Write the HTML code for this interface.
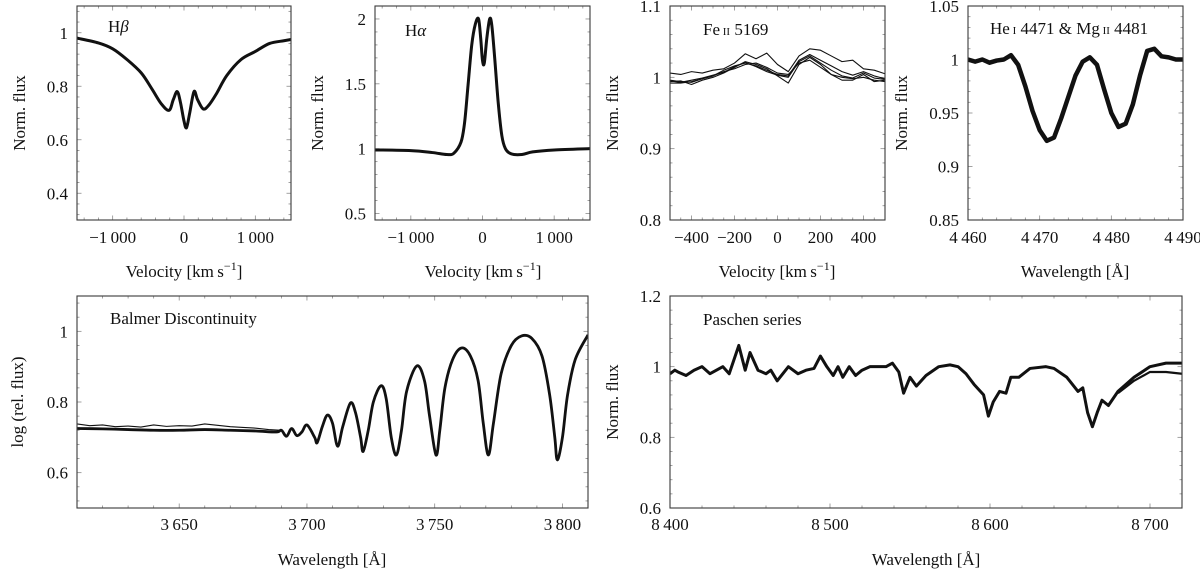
<!DOCTYPE html>
<html><head><meta charset="utf-8"><style>
html,body{margin:0;padding:0;background:#fff;}
svg{display:block;}
svg text{font-family:"Liberation Serif","DejaVu Serif",serif;}
</style></head><body>
<svg id="fig" width="1200" height="573" viewBox="0 0 1200 573" xmlns="http://www.w3.org/2000/svg" font-family="Liberation Serif, DejaVu Serif, serif"></svg>
<script>
// ---------- data ----------
const hbVel = [-1500,-1200,-1000,-800,-600,-450,-320,-210,-150,-95,-50,0,35,80,140,190,270,350,450,600,800,1000,1200,1400,1500];
const hbFlux = [0.98,0.962,0.94,0.90,0.85,0.79,0.735,0.71,0.75,0.78,0.74,0.67,0.645,0.70,0.78,0.75,0.715,0.73,0.77,0.84,0.90,0.93,0.96,0.97,0.975];

const haVel = [-1500,-1000,-700,-500,-400,-300,-250,-200,-150,-100,-55,-25,0,25,60,100,130,170,220,270,320,400,550,700,1000,1500];
const haFlux = [0.99,0.985,0.97,0.955,0.965,1.05,1.2,1.5,1.8,1.96,2.0,1.85,1.68,1.66,1.85,2.0,1.95,1.7,1.35,1.1,1.0,0.96,0.955,0.975,0.99,1.0];

const feVel = [-500,-450,-400,-350,-300,-250,-200,-150,-100,-50,0,50,100,150,200,250,300,350,400,450,500];
const feA = [1.006,1.004,1.008,1.006,1.010,1.012,1.020,1.033,1.026,1.034,1.018,1.008,1.030,1.040,1.038,1.030,1.022,1.024,1.012,1.010,1.005];
const feB = [0.996,0.994,0.993,0.998,1.002,1.010,1.016,1.020,1.016,1.010,1.004,1.002,1.024,1.032,1.024,1.016,1.008,1.003,1.008,1.002,0.998];
const feC = [0.994,0.995,0.990,0.996,1.000,1.006,1.014,1.022,1.018,1.012,1.002,0.992,1.018,1.028,1.018,1.004,0.996,0.996,1.004,0.994,0.996];
const feD = [0.992,0.992,0.994,0.998,1.002,1.008,1.012,1.018,1.020,1.014,1.006,1.004,1.020,1.024,1.014,1.004,1.000,0.998,1.000,0.996,0.994];
const feE = [0.995,0.993,0.996,0.999,1.003,1.007,1.015,1.021,1.015,1.008,1.003,1.000,1.022,1.030,1.020,1.010,1.002,0.999,1.006,0.999,0.997];

const heWave = [4460,4461,4462,4463,4464,4465,4466,4467,4468,4469,4470,4471,4472,4473,4474,4475,4476,4477,4478,4479,4480,4481,4482,4483,4484,4485,4486,4487,4488,4489,4490];
const heFlux = [1.0,0.998,1.0,0.997,0.999,1.0,1.004,0.995,0.975,0.952,0.934,0.924,0.927,0.945,0.965,0.985,0.998,1.002,0.995,0.972,0.950,0.937,0.940,0.958,0.985,1.008,1.01,1.003,1.002,1.0,1.0];

const bdWave = [3610,3620,3630,3640,3650,3660,3670,3680,3688,3690,3692,3694,3696,3698,3700,3703,3704,3706,3708,3710,3712,3714,3717,3719,3721,3722,3724,3726,3729,3731,3733,3735,3737,3739,3743,3746,3748,3750.5,3752,3754,3757,3760.5,3764,3767,3769,3771,3773,3776,3780,3784,3788,3792,3795,3797,3798,3800,3802,3805,3810];
const bdFlux = [0.725,0.724,0.722,0.72,0.72,0.722,0.72,0.718,0.715,0.72,0.703,0.725,0.705,0.715,0.735,0.70,0.685,0.73,0.763,0.74,0.675,0.73,0.797,0.77,0.70,0.66,0.72,0.80,0.846,0.81,0.70,0.65,0.72,0.83,0.902,0.86,0.76,0.65,0.72,0.84,0.92,0.953,0.93,0.86,0.74,0.65,0.74,0.88,0.96,0.987,0.98,0.93,0.82,0.70,0.636,0.70,0.82,0.92,0.99];
const bdUpperWave = [3610,3615,3620,3625,3630,3635,3640,3645,3650,3655,3660,3665,3670,3675,3680,3685,3690];
const bdUpperFlux = [0.738,0.733,0.735,0.73,0.732,0.729,0.735,0.731,0.733,0.732,0.738,0.734,0.73,0.728,0.726,0.722,0.72];

const paWave = [8400,8403,8405,8410,8415,8420,8425,8433,8437,8443,8447,8450,8455,8460,8463,8467,8474,8480,8485,8490,8494,8498,8502,8505,8508,8512,8516,8520,8525,8535,8539,8543,8546,8550,8554,8560,8568,8575,8580,8585,8590,8593,8596,8599,8602,8606,8610,8613,8618,8625,8635,8640,8648,8655,8658,8661,8664,8667,8670,8674,8680,8690,8700,8710,8720];
const paFlux = [0.98,0.99,0.985,0.975,0.99,1.0,0.98,1.0,0.98,1.06,0.99,1.04,0.99,0.98,0.99,0.96,1.0,0.98,0.99,0.995,1.03,1.0,0.975,1.0,0.97,1.0,0.975,0.99,1.0,1.0,1.01,0.985,0.925,0.97,0.945,0.975,1.0,1.005,1.0,0.98,0.95,0.935,0.92,0.86,0.9,0.93,0.925,0.97,0.97,0.995,1.0,0.995,0.97,0.93,0.94,0.87,0.83,0.87,0.905,0.89,0.93,0.97,1.0,1.01,1.01];
const paTailWave = [8680,8690,8700,8710,8720];
const paTailFlux = [0.925,0.96,0.985,0.985,0.98];

// tick arrays
const p1XTicks=[-1000,0,1000], p1XLabels=["\u22121\u2009000","0","1\u2009000"], p1YTicks=[0.4,0.6,0.8,1], p1YLabels=["0.4","0.6","0.8","1"];
const p2XTicks=[-1000,0,1000], p2XLabels=["\u22121\u2009000","0","1\u2009000"], p2YTicks=[0.5,1,1.5,2], p2YLabels=["0.5","1","1.5","2"];
const p3XTicks=[-400,-200,0,200,400], p3XLabels=["\u2212400","\u2212200","0","200","400"], p3YTicks=[0.8,0.9,1,1.1], p3YLabels=["0.8","0.9","1","1.1"];
const p4XTicks=[4460,4470,4480,4490], p4XLabels=["4\u2009460","4\u2009470","4\u2009480","4\u2009490"], p4YTicks=[0.85,0.9,0.95,1,1.05], p4YLabels=["0.85","0.9","0.95","1","1.05"];
const p5XTicks=[3650,3700,3750,3800], p5XLabels=["3\u2009650","3\u2009700","3\u2009750","3\u2009800"], p5YTicks=[0.6,0.8,1], p5YLabels=["0.6","0.8","1"];
const p6XTicks=[8400,8500,8600,8700], p6XLabels=["8\u2009400","8\u2009500","8\u2009600","8\u2009700"], p6YTicks=[0.6,0.8,1,1.2], p6YLabels=["0.6","0.8","1","1.2"];

// ---------- drawing ----------
const NS="http://www.w3.org/2000/svg";
const FONT="Liberation Serif, DejaVu Serif, serif";
const svg=document.getElementById('fig');
function mk(tag,attrs,parent){const e=document.createElementNS(NS,tag);for(const k in attrs)e.setAttribute(k,attrs[k]);(parent||svg).appendChild(e);return e;}

function pathD(xs,ys,sx,sy,smooth){
  const P=xs.map((x,i)=>[sx(x),sy(ys[i])]);
  let d="M"+P[0][0].toFixed(2)+","+P[0][1].toFixed(2);
  for(let i=1;i<P.length;i++){
    if(!smooth){d+="L"+P[i][0].toFixed(2)+","+P[i][1].toFixed(2);continue;}
    const p0=P[Math.max(0,i-2)],p1=P[i-1],p2=P[i],p3=P[Math.min(P.length-1,i+1)];
    const c1=[p1[0]+(p2[0]-p0[0])/6,p1[1]+(p2[1]-p0[1])/6];
    const c2=[p2[0]-(p3[0]-p1[0])/6,p2[1]-(p3[1]-p1[1])/6];
    d+="C"+c1[0].toFixed(2)+","+c1[1].toFixed(2)+" "+c2[0].toFixed(2)+","+c2[1].toFixed(2)+" "+p2[0].toFixed(2)+","+p2[1].toFixed(2);
  }
  return d;
}

function panel(cfg){
  const g=mk('g',{});
  
  
  const {L,R,T,B,x0,x1,y0,y1}=cfg;
  const sx=v=>L+(v-x0)/(x1-x0)*(R-L);
  const sy=v=>B-(v-y0)/(y1-y0)*(B-T);
  const tk=mk('g',{stroke:'#8a8a8a','stroke-width':0.8},g);
  
  
  for(let v=Math.ceil(x0/cfg.xm-1e-9)*cfg.xm; v<=x1+1e-9; v+=cfg.xm){
    const X=sx(v); const major=cfg.xt.some(t=>Math.abs(t-v)<cfg.xm/10); const len=major?4.5:2.5;
    mk('line',{x1:X,x2:X,y1:B,y2:B-len},tk); mk('line',{x1:X,x2:X,y1:T,y2:T+len},tk);
  }
  for(let v=Math.ceil(y0/cfg.ym-1e-9)*cfg.ym; v<=y1+1e-9; v+=cfg.ym){
    const Y=sy(v); const major=cfg.yt.some(t=>Math.abs(t-v)<cfg.ym/10); const len=major?4.5:2.5;
    mk('line',{x1:L,x2:L+len,y1:Y,y2:Y},tk); mk('line',{x1:R,x2:R-len,y1:Y,y2:Y},tk);
  }
  const clip='clip-'+cfg.name;
  const cp=mk('clipPath',{id:clip},g); mk('rect',{x:L,y:T,width:R-L,height:B-T},cp);
  const sg=mk('g',{'clip-path':'url(#'+clip+')',fill:'none',stroke:'#111','stroke-linejoin':'round'},g);
  cfg.series.forEach((s,i)=>{
    const p=mk('path',{d:pathD(s.x,s.y,sx,sy,s.smooth),'stroke-width':s.w},sg);
    
    
  });
  const fr=mk('rect',{x:L,y:T,width:R-L,height:B-T,fill:'none',stroke:'#3a3a3a','stroke-width':1.1},g);
  
  
  cfg.xt.forEach((v,i)=>{
    const t=mk('text',{x:sx(v),y:cfg.xly,'text-anchor':'middle','font-size':17,fill:'#111','font-family':FONT},g);
    t.textContent=cfg.xl[i];
    
    
  });
  cfg.yt.forEach((v,i)=>{
    const t=mk('text',{x:L-9,y:sy(v)+6,'text-anchor':'end','font-size':17,fill:'#111','font-family':FONT},g);
    t.textContent=cfg.yl[i];
    
    
  });
  return g;
}

const thin=1.1;
panel({name:'hbeta-panel',L:77,R:291,T:6,B:220,x0:-1500,x1:1500,y0:0.3,y1:1.1,xm:200,ym:0.04,xt:p1XTicks,xl:p1XLabels,yt:p1YTicks,yl:p1YLabels,xly:243,
  series:[{x:hbVel,y:hbFlux,w:3,smooth:true}]});
panel({name:'halpha-panel',L:375,R:590,T:6,B:220,x0:-1500,x1:1500,y0:0.45,y1:2.1,xm:200,ym:0.1,xt:p2XTicks,xl:p2XLabels,yt:p2YTicks,yl:p2YLabels,xly:243,
  series:[{x:haVel,y:haFlux,w:3,smooth:true}]});
panel({name:'feii-panel',L:670,R:885,T:6,B:220,x0:-500,x1:500,y0:0.8,y1:1.1,xm:50,ym:0.02,xt:p3XTicks,xl:p3XLabels,yt:p3YTicks,yl:p3YLabels,xly:243,
  series:[{x:feVel,y:feA,w:thin},{x:feVel,y:feB,w:thin},{x:feVel,y:feC,w:thin},{x:feVel,y:feD,w:thin},{x:feVel,y:feE,w:thin}]});
panel({name:'hei-mgii-panel',L:968,R:1183,T:6,B:220,x0:4460,x1:4490,y0:0.85,y1:1.05,xm:2,ym:0.01,xt:p4XTicks,xl:p4XLabels,yt:p4YTicks,yl:p4YLabels,xly:243,
  series:[{x:heWave,y:heFlux,w:4.5,smooth:false}]});
panel({name:'balmer-panel',L:77,R:588,T:296,B:508,x0:3610,x1:3810,y0:0.5,y1:1.1,xm:10,ym:0.04,xt:p5XTicks,xl:p5XLabels,yt:p5YTicks,yl:p5YLabels,xly:530,
  series:[{x:bdUpperWave,y:bdUpperFlux,w:thin},{x:bdWave,y:bdFlux,w:2.8,smooth:true}]});
panel({name:'paschen-panel',L:670,R:1182,T:296,B:508,x0:8400,x1:8720,y0:0.6,y1:1.2,xm:20,ym:0.04,xt:p6XTicks,xl:p6XLabels,yt:p6YTicks,yl:p6YLabels,xly:530,
  series:[{x:paWave,y:paFlux,w:3},{x:paTailWave,y:paTailFlux,w:2.2}]});

function txt(s,attrs,name){const t=mk('text',Object.assign({fill:'#111','font-size':17,'font-family':FONT},attrs));t.innerHTML=s;return t;}
txt('H<tspan font-style="italic">β</tspan>',{x:108,y:32},'hbeta-label');
txt('H<tspan font-style="italic">α</tspan>',{x:405,y:36},'halpha-label');
txt('Fe<tspan font-size="11"> II</tspan> 5169',{x:703,y:35},'feii-label');
txt('He<tspan font-size="11"> I</tspan> 4471 &amp; Mg<tspan font-size="11"> II</tspan> 4481',{x:990,y:34},'hei-mgii-label');
txt('Balmer Discontinuity',{x:110,y:324},'balmer-label');
txt('Paschen series',{x:703,y:325},'paschen-label');
const vel='Velocity [km\u2009s<tspan dy="-7" font-size="12">\u22121</tspan><tspan dy="7">]</tspan>';
txt(vel,{x:184,y:277,'text-anchor':'middle'},'x-axis-title-hbeta');
txt(vel,{x:483,y:277,'text-anchor':'middle'},'x-axis-title-halpha');
txt(vel,{x:777,y:277,'text-anchor':'middle'},'x-axis-title-feii');
txt('Wavelength [Å]',{x:1075,y:277,'text-anchor':'middle'},'x-axis-title-hei');
txt('Wavelength [Å]',{x:332,y:565,'text-anchor':'middle'},'x-axis-title-balmer');
txt('Wavelength [Å]',{x:926,y:565,'text-anchor':'middle'},'x-axis-title-paschen');
[[25,113,'Norm. flux','y-axis-title-hbeta'],[323,113,'Norm. flux','y-axis-title-halpha'],[618,113,'Norm. flux','y-axis-title-feii'],[907,113,'Norm. flux','y-axis-title-hei'],[23,402,'log (rel. flux)','y-axis-title-balmer'],[618,402,'Norm. flux','y-axis-title-paschen']].forEach(a=>{
  txt(a[2],{x:a[0],y:a[1],'text-anchor':'middle',transform:'rotate(-90 '+a[0]+' '+a[1]+')'},a[3]);
});
</script>
</body></html>
